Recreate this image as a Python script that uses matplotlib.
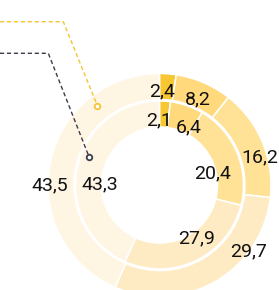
import matplotlib

matplotlib.use("Agg")

import matplotlib.pyplot as plt
import numpy as np


WIDTH = 279
HEIGHT = 290

# data
outer_values = [2.4, 8.2, 16.2, 29.7, 43.5]
inner_values = [2.1, 6.4, 20.4, 27.9, 43.3]

palette = ["#F8C630", "#FFD97C", "#FFE296", "#FFEBC3", "#FFF5E3"]

# label placement: (clockwise angle from top, radius in px)
outer_label_pos = [(1.3, 96), (23.7, 95.6), (73.4, 104.9), (125.8, 110.3), (271, 109.5)]
inner_label_pos = [(359.6, 67), (26.2, 66.9), (75.3, 55.3), (143.7, 63.3), (272, 59.5)]

CENTER = (159.5, HEIGHT - 185)
OUTER_R = 111.5
INNER_R = 84
RING_W = 26

FONT_SIZE = 14


def polar(angle, radius):
    """
    Clockwise-from-top angle to data coords.
    """

    a = np.deg2rad(angle)

    return (
        CENTER[0] + radius * np.sin(a),
        CENTER[1] + radius * np.cos(a),
    )


def fmt(value):
    return f"{value:.1f}".replace(".", ",")


def draw_ring(ax, values, radius):
    ax.pie(
        values,
        radius=radius,
        center=CENTER,
        startangle=90,
        counterclock=False,
        colors=palette,
        wedgeprops=dict(
            width=RING_W,
            edgecolor="white",
            linewidth=1.1,
        ),
    )


def draw_labels(ax, values, positions):
    cap_offset = 0.711 * FONT_SIZE * 100 / 72 / 2

    for value, (angle, radius) in zip(values, positions):
        x, y = polar(angle, radius)

        ax.text(
            x,
            y - cap_offset,
            fmt(value),
            ha="center",
            va="baseline",
            fontsize=FONT_SIZE,
            family="Roboto",
            color="#111111",
        )


def draw_leader(ax, start_y, elbow_x, anchor, color):
    ax_x, ax_y = polar(*anchor)

    ax.plot(
        [0, elbow_x, ax_x],
        [HEIGHT - start_y, HEIGHT - start_y, ax_y],
        color=color,
        linewidth=1,
        linestyle=(0, (3, 2)),
    )

    ax.plot(
        ax_x,
        ax_y,
        marker="o",
        markersize=4,
        markerfacecolor="white",
        markeredgecolor=color,
        markeredgewidth=1.3,
    )


fig = plt.figure(
    figsize=(WIDTH / 100, HEIGHT / 100),
    dpi=100,
)

ax = fig.add_axes([0, 0, 1, 1])

draw_ring(ax, outer_values, OUTER_R)
draw_ring(ax, inner_values, INNER_R)

draw_labels(ax, outer_values, outer_label_pos)
draw_labels(ax, inner_values, inner_label_pos)

draw_leader(ax, 21.7, 63.3, (321.9, 100.5), "#F6C433")
draw_leader(ax, 53.3, 48.3, (291.5, 75.5), "#3C3C4C")

ax.set_xlim(0, WIDTH)
ax.set_ylim(0, HEIGHT)
ax.set_aspect("equal")
ax.axis("off")

fig.savefig(
    "out.png",
    dpi=100,
)
